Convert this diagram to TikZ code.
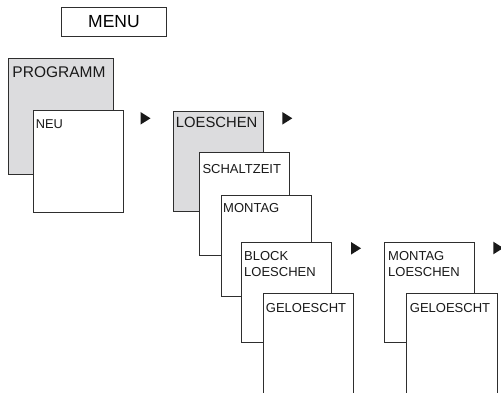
\documentclass[tikz,border=0pt]{standalone}
\usepackage{fontspec}
\setmainfont{Liberation Sans}
\definecolor{panelgray}{HTML}{DCDCDE}
\definecolor{edge}{HTML}{2E2E2E}
\tikzset{
  box/.style={draw=edge, line width=0.9pt, fill=white, inner sep=0pt, anchor=north west},
  graybox/.style={box, fill=panelgray},
  lbl/.style={inner sep=0pt, anchor=base west, align=left, font=\fontsize{13}{16}\selectfont, text=black!90},
  arrowfill/.style={fill=black!90},
}
\begin{document}
\begin{tikzpicture}[x=1pt,y=-1pt]
\useasboundingbox (0,0) rectangle (501,393);
\clip (0,0) rectangle (501,393);
% MENU
\node[box, minimum width=105pt, minimum height=29pt, font=\fontsize{17.5}{20}\selectfont] (menu) at (61,7) {MENU};
% PROGRAMM / NEU
\node[graybox, minimum width=104.7pt, minimum height=116.3pt] (programm) at (8.3,57.7) {};
\node[lbl, font=\fontsize{15.5}{18}\selectfont] (tprogramm) at (12.3,78) {PROGRAMM};
\node[box, minimum width=90pt, minimum height=101.7pt] (neu) at (33.3,110) {};
\node[lbl, font=\fontsize{12.8}{16}\selectfont] (tneu) at (35.7,128.3) {NEU};
% LOESCHEN chain
\node[graybox, minimum width=90pt, minimum height=100pt] (loeschen) at (173.3,111) {};
\node[lbl, font=\fontsize{14.8}{18}\selectfont] (tloeschen) at (175.7,127.7) {LOESCHEN};
\node[box, minimum width=90pt, minimum height=102.7pt] (schaltzeit) at (199.3,152.3) {};
\node[lbl] (tschaltzeit) at (202.3,174) {SCHALTZEIT};
\node[box, minimum width=90pt, minimum height=101pt] (montag) at (221,195) {};
\node[lbl] (tmontag) at (223,212.7) {MONTAG};
\node[box, minimum width=90pt, minimum height=100.6pt] (block) at (241,241.7) {};
\node[lbl] (tblock) at (244,276) {BLOCK\\LOESCHEN};
\node[box, minimum width=90pt, minimum height=120pt] (geloescht) at (263.3,293.3) {};
\node[lbl] (tgeloescht) at (265.7,312.3) {GELOESCHT};
% MONTAG LOESCHEN chain
\node[box, minimum width=89.7pt, minimum height=100.6pt] (mloeschen) at (384.3,241.7) {};
\node[lbl] (tmloeschen) at (388,276) {MONTAG\\LOESCHEN};
\node[box, minimum width=90.7pt, minimum height=120pt] (geloescht2) at (406,293.3) {};
\node[lbl] (tgeloescht2) at (409.7,312.3) {GELOESCHT};
% arrows
\coordinate (a1) at (145.5,118.3);
\coordinate (a2) at (287.3,118.3);
\coordinate (a3) at (356,248.3);
\coordinate (a4) at (498.3,248);
\foreach \a in {a1,a2,a3,a4}
  \fill[arrowfill] (\a) ++(-5,-6.3) -- ++(10,6.3) -- ++(-10,6.3) -- cycle;
\end{tikzpicture}
\end{document}
